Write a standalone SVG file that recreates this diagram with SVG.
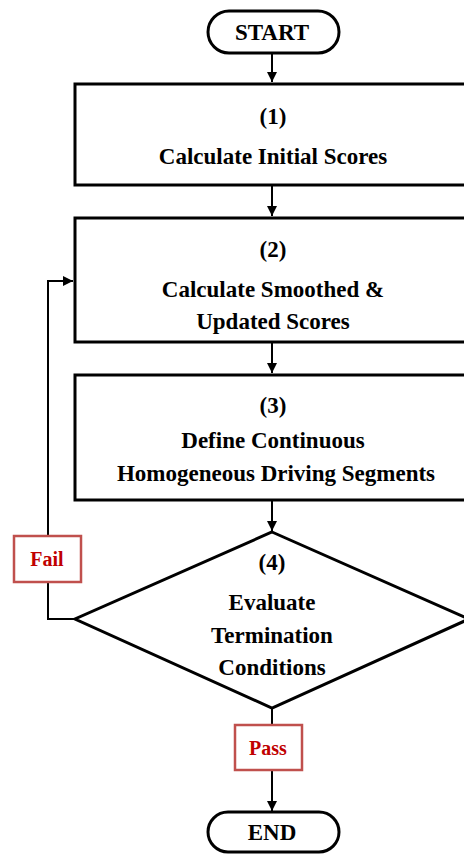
<svg xmlns="http://www.w3.org/2000/svg" width="464" height="855" viewBox="0 0 464 855">
  <style>
    .shape { fill: #ffffff; stroke: #000000; stroke-width: 3; }
    .conn { fill: none; stroke: #000000; stroke-width: 2; }
    .lbl { font-family: "Liberation Serif", "Times New Roman", serif; font-weight: bold; font-size: 23px; fill: #000000; text-anchor: middle; }
    .tag { fill: #ffffff; stroke: #c0504d; stroke-width: 2.5; }
    .tagtxt { font-family: "Liberation Serif", "Times New Roman", serif; font-weight: bold; font-size: 20px; fill: #c00000; text-anchor: middle; }
  </style>
  <defs>
    <marker id="arrow" markerWidth="10" markerHeight="10" refX="10" refY="5" orient="auto" markerUnits="userSpaceOnUse">
      <path d="M0,0 L10,5 L0,10 Z" fill="#000000"/>
    </marker>
  </defs>
  <rect width="464" height="855" fill="#ffffff"/>

  <!-- connectors -->
  <g id="connectors">
    <line class="conn" x1="272" y1="53" x2="272" y2="82" marker-end="url(#arrow)"/>
    <line class="conn" x1="272" y1="185" x2="272" y2="216" marker-end="url(#arrow)"/>
    <line class="conn" x1="272" y1="342" x2="272" y2="373" marker-end="url(#arrow)"/>
    <line class="conn" x1="272" y1="500" x2="272" y2="531" marker-end="url(#arrow)"/>
    <polyline class="conn" points="75,619 48,619 48,281 73,281" marker-end="url(#arrow)"/>
    <line class="conn" x1="272" y1="708" x2="272" y2="811" marker-end="url(#arrow)"/>
  </g>

  <g id="start">
    <rect class="shape" x="208" y="11" width="131" height="42" rx="21"/>
    <text class="lbl" x="272" y="40">START</text>
  </g>

  <g id="step1">
    <rect class="shape" x="75" y="84" width="394" height="101"/>
    <text class="lbl" x="273" y="124">(1)</text>
    <text class="lbl" x="273" y="164">Calculate Initial Scores</text>
  </g>

  <g id="step2">
    <rect class="shape" x="75" y="218" width="394" height="124"/>
    <text class="lbl" x="273" y="257">(2)</text>
    <text class="lbl" x="273" y="297">Calculate Smoothed &amp;</text>
    <text class="lbl" x="273" y="329">Updated Scores</text>
  </g>

  <g id="step3">
    <rect class="shape" x="75" y="375" width="394" height="125"/>
    <text class="lbl" x="273" y="413">(3)</text>
    <text class="lbl" x="273" y="448">Define Continuous</text>
    <text class="lbl" x="276" y="481">Homogeneous Driving Segments</text>
  </g>

  <g id="step4">
    <polygon class="shape" points="272,532 469,619 272,708 75,619"/>
    <text class="lbl" x="272" y="570">(4)</text>
    <text class="lbl" x="272" y="610">Evaluate</text>
    <text class="lbl" x="272" y="643">Termination</text>
    <text class="lbl" x="272" y="675">Conditions</text>
  </g>

  <g id="fail">
    <rect class="tag" x="14" y="536" width="67" height="46"/>
    <text class="tagtxt" x="47" y="566">Fail</text>
  </g>

  <g id="pass">
    <rect class="tag" x="235" y="725" width="67" height="45"/>
    <text class="tagtxt" x="268" y="755">Pass</text>
  </g>

  <g id="end">
    <rect class="shape" x="208" y="812" width="131" height="40" rx="20"/>
    <text class="lbl" x="272" y="840">END</text>
  </g>
</svg>
